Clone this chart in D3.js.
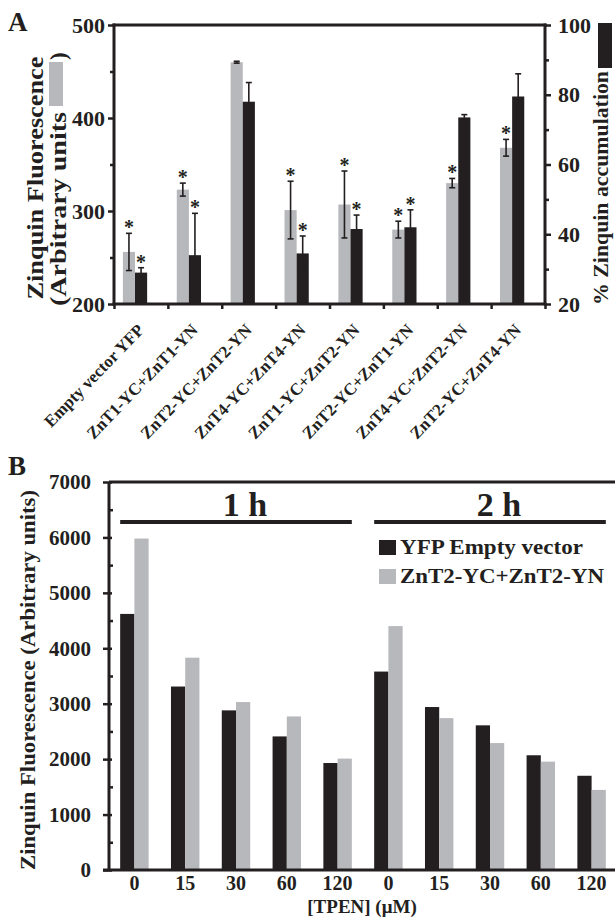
<!DOCTYPE html>
<html>
<head>
<meta charset="utf-8">
<script src="https://cdn.jsdelivr.net/npm/d3@7"></script>
<style>
body{margin:0;background:#fff}
text{font-family:"Liberation Serif","Times New Roman",serif;font-weight:bold;fill:#231f20}
</style>
</head>
<body>
<svg id="chart" width="615" height="917"></svg>
<script>
// ---- panel A data ----
var constructs=["Empty vector YFP","ZnT1-YC+ZnT1-YN","ZnT2-YC+ZnT2-YN","ZnT4-YC+ZnT4-YN",
  "ZnT1-YC+ZnT2-YN","ZnT2-YC+ZnT1-YN","ZnT4-YC+ZnT2-YN","ZnT2-YC+ZnT4-YN"]
var fluor=[256,323,460,301,307,280,330,368]
var fluorErr=[20,7,1,31,36,9,5,9]
var accum=[29,34,78,34.5,41.5,42,73.5,79.5]
var accumErr=[1.4,12,5.5,5,4,5,0.8,6.5]
var fluorStar=[1,1,0,1,1,1,1,1]
var accumStar=[1,1,0,1,1,1,0,0]
var leftTicks=[200,300,400,500]
var leftMinor=[250,350,450]
var rightTicks=[20,40,60,80,100]
var rightMinor=[30,50,70,90]

// ---- panel B data ----
var tpen=["0","15","30","60","120","0","15","30","60","120"]
var timeLabels=["1 h","2 h"]
var yfp=[4620,3310,2880,2410,1930,3580,2940,2610,2070,1700]
var znt2=[5980,3830,3030,2770,2010,4400,2740,2290,1955,1445]
var bTicks=[0,1000,2000,3000,4000,5000,6000,7000]
var bMinor=[500,1500,2500,3500,4500,5500,6500]
var seriesB=["YFP Empty vector","ZnT2-YC+ZnT2-YN"]

var ink="#231f20", grey="#b7b8bb"
var svg=d3.select("#chart")

function styleAxis(g,w){
  g.selectAll("path.domain").remove()
  g.selectAll("line").attr("stroke",ink).attr("stroke-width",w)
}
// stretch a text to the length it has in the figure
function stretch(sel,len){
  sel.attr("textLength",len).attr("lengthAdjust","spacingAndGlyphs")
  return len
}

//==================== PANEL A ====================
var A={left:114,right:545,top:25,bottom:304}
var xA=d3.scaleBand().domain(d3.range(constructs.length)).range([A.left,A.right])
var bw=xA.bandwidth()
var sub=d3.scaleBand().domain(["fluor","accum"]).range([bw*0.165,bw*0.615])
var yL=d3.scaleLinear().domain([200,500]).range([A.bottom,A.top])
var yR=d3.scaleLinear().domain([20,100]).range([A.bottom,A.top])
var gA=svg.append("g")

// bars
gA.selectAll("rect.fl").data(fluor).join("rect")
  .attr("x",(d,i)=>xA(i)+sub("fluor")).attr("width",sub.bandwidth())
  .attr("y",d=>yL(d)).attr("height",d=>yL(200)-yL(d)).attr("fill",grey)
gA.selectAll("rect.ac").data(accum).join("rect")
  .attr("x",(d,i)=>xA(i)+sub("accum")).attr("width",sub.bandwidth())
  .attr("y",d=>yR(d)).attr("height",d=>yR(20)-yR(d)).attr("fill",ink)

function errBars(vals,errs,scale,key,stars){
  vals.forEach(function(v,i){
    var cx=xA(i)+sub(key)+sub.bandwidth()/2
    var y1=scale(v+errs[i]), y0=scale(v-errs[i])
    gA.append("line").attr("x1",cx).attr("x2",cx).attr("y1",y1).attr("y2",y0)
      .attr("stroke",ink).attr("stroke-width",1.6)
    ;[y1,y0].forEach(function(y){
      gA.append("line").attr("x1",cx-3).attr("x2",cx+3).attr("y1",y).attr("y2",y)
        .attr("stroke",ink).attr("stroke-width",1.6)
    })
    if(stars[i]) gA.append("text").attr("x",cx).attr("y",y1+1).attr("text-anchor","middle")
      .attr("font-weight","normal").attr("font-size","20px").text("*")
  })
}
errBars(fluor,fluorErr,yL,"fluor",fluorStar)
errBars(accum,accumErr,yR,"accum",accumStar)

// axes
var axL=gA.append("g").attr("transform","translate("+A.left+",0)")
  .call(d3.axisLeft(yL).tickValues(leftTicks).tickSize(6).tickPadding(3))
styleAxis(axL,2.5)
axL.selectAll("text").attr("font-size","22px").attr("fill",ink)
var axLm=gA.append("g").attr("transform","translate("+A.left+",0)")
  .call(d3.axisLeft(yL).tickValues(leftMinor).tickSize(4).tickFormat(""))
styleAxis(axLm,2.5)

var axR=gA.append("g").attr("transform","translate("+A.right+",0)")
  .call(d3.axisRight(yR).tickValues(rightTicks).tickSize(6).tickPadding(7))
styleAxis(axR,2.5)
axR.selectAll("text").attr("font-size","22px").attr("fill",ink)
var axRm=gA.append("g").attr("transform","translate("+A.right+",0)")
  .call(d3.axisRight(yR).tickValues(rightMinor).tickSize(4).tickFormat(""))
styleAxis(axRm,2.5)

var xEdge=d3.scaleLinear().domain([0,constructs.length]).range([A.left,A.right])
var axB=gA.append("g").attr("transform","translate(0,"+A.bottom+")")
  .call(d3.axisBottom(xEdge).tickValues(d3.range(constructs.length+1)).tickSize(5).tickFormat(""))
styleAxis(axB,2.5)

// frame
;[[A.left,A.top,A.left,A.bottom],[A.right,A.top,A.right,A.bottom],
  [A.left,A.top,A.right,A.top],[A.left,A.bottom,A.right,A.bottom]].forEach(function(l){
  gA.append("line").attr("x1",l[0]).attr("y1",l[1]).attr("x2",l[2]).attr("y2",l[3])
    .attr("stroke",ink).attr("stroke-width",3).attr("stroke-linecap","square")
})

// category labels
gA.selectAll("text.cat").data(constructs).join("text")
  .attr("text-anchor","end").attr("font-size","17px")
  .attr("transform",(d,i)=>"translate("+(xA(i)+bw/2+4)+","+(A.bottom+27)+")rotate(-46)")
  .text(d=>d)

// left axis title
var tl=gA.append("g").attr("transform","translate(43,178)rotate(-90)")
var t1=tl.append("text").attr("text-anchor","middle").attr("font-size","23px").text("Zinquin Fluorescence")
stretch(t1,243)
var t2=tl.append("text").attr("x",-128).attr("y",23).attr("font-size","23px").text("(Arbitrary units")
var l2=stretch(t2,194)
tl.append("rect").attr("x",-128+l2+6).attr("y",23-17).attr("width",44).attr("height",14).attr("fill",grey)
tl.append("text").attr("x",-128+l2+52).attr("y",23).attr("font-size","23px").text(")")

// right axis title
var tr=gA.append("g").attr("transform","translate(608,305)rotate(-90)")
var t3=tr.append("text").attr("font-size","21px").text("% Zinquin accumulation")
var l3=stretch(t3,234)
tr.append("rect").attr("x",l3+3).attr("y",-10).attr("width",45).attr("height",14).attr("fill",ink)

svg.append("text").attr("x",8).attr("y",31).attr("font-size","27px").text("A")

//==================== PANEL B ====================
var B={left:109,right:617,top:482,bottom:870}
var xB=d3.scaleBand().domain(d3.range(tpen.length)).range([B.left,B.right])
var bwB=xB.bandwidth()
var subB=d3.scaleBand().domain(seriesB).range([bwB*0.22,bwB*0.78])
var yB=d3.scaleLinear().domain([0,7000]).range([B.bottom,B.top])
var gB=svg.append("g")

gB.selectAll("rect.y").data(yfp).join("rect")
  .attr("x",(d,i)=>xB(i)+subB(seriesB[0])).attr("width",subB.bandwidth())
  .attr("y",d=>yB(d)).attr("height",d=>yB(0)-yB(d)).attr("fill",ink)
gB.selectAll("rect.z").data(znt2).join("rect")
  .attr("x",(d,i)=>xB(i)+subB(seriesB[1])).attr("width",subB.bandwidth())
  .attr("y",d=>yB(d)).attr("height",d=>yB(0)-yB(d)).attr("fill",grey)

var axBL=gB.append("g").attr("transform","translate("+B.left+",0)")
  .call(d3.axisLeft(yB).tickValues(bTicks).tickFormat(d3.format("d")).tickSize(6).tickPadding(12))
styleAxis(axBL,2.5)
axBL.selectAll("text").attr("font-size","21px").attr("fill",ink)
axBL.selectAll(".tick line").attr("x2",-6).attr("x1",3)
var axBLm=gB.append("g").attr("transform","translate("+B.left+",0)")
  .call(d3.axisRight(yB).tickValues(bMinor).tickSize(4).tickFormat(""))
styleAxis(axBLm,2.5)

var axBB=gB.append("g").attr("transform","translate(0,"+B.bottom+")")
  .call(d3.axisBottom(xB).tickFormat(i=>tpen[i]).tickSize(0).tickPadding(6))
styleAxis(axBB,2.5)
axBB.selectAll("text").attr("font-size","20px").attr("fill",ink)

;[[B.left,B.top,B.left,B.bottom],[B.left,B.top,615,B.top],[103,B.bottom,615,B.bottom]].forEach(function(l){
  gB.append("line").attr("x1",l[0]).attr("y1",l[1]).attr("x2",l[2]).attr("y2",l[3])
    .attr("stroke",ink).attr("stroke-width",3)
})

// time group bars
timeLabels.forEach(function(t,k){
  var x1=xB(k*5)+subB(seriesB[0]), x2=xB(k*5+4)+subB(seriesB[1])+subB.bandwidth()
  gB.append("line").attr("x1",x1).attr("x2",x2).attr("y1",522).attr("y2",522)
    .attr("stroke",ink).attr("stroke-width",4)
  gB.append("text").attr("x",(x1+x2)/2+9).attr("y",516).attr("text-anchor","middle")
    .attr("font-size","34px").text(t)
})

// legend
var legLen=[183,204]
var leg=gB.selectAll("g.leg").data(seriesB).join("g")
  .attr("transform",(d,i)=>"translate(379,"+(540+i*29)+")")
leg.append("rect").attr("width",17).attr("height",15).attr("fill",(d,i)=>i?grey:ink)
leg.append("text").attr("x",21).attr("y",14).attr("font-size","21px").text(d=>d)
  .attr("textLength",(d,i)=>legLen[i]).attr("lengthAdjust","spacingAndGlyphs")

gB.append("text").attr("x",362).attr("y",913).attr("text-anchor","middle")
  .attr("font-size","19px").text("[TPEN] (\u03bcM)")

var tb=gB.append("g").attr("transform","translate(35,680)rotate(-90)")
var tbt=tb.append("text").attr("text-anchor","middle").attr("font-size","21px")
  .text("Zinquin Fluorescence (Arbitrary units)")
stretch(tbt,380)

svg.append("text").attr("x",8).attr("y",475).attr("font-size","27px").text("B")
</script>
</body>
</html>
